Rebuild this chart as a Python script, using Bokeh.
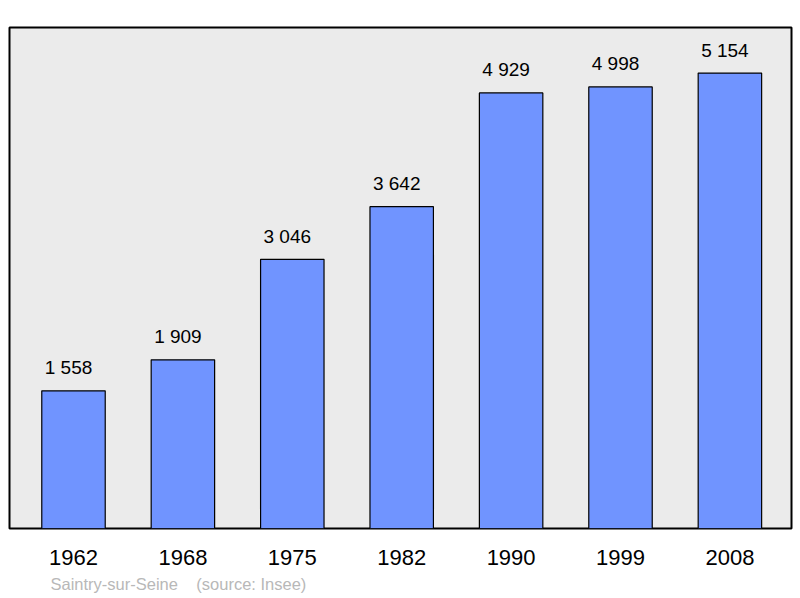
from bokeh.plotting import figure
from bokeh.models import ColumnDataSource, FixedTicker, Title, Range1d
from bokeh.core.properties import value
from bokeh.embed import file_html
from bokeh.resources import INLINE

years = ["1962", "1968", "1975", "1982", "1990", "1999", "2008"]
population = [1558, 1909, 3046, 3642, 4929, 4998, 5154]
value_labels = ["1 558", "1 909", "3 046", "3 642", "4 929", "4 998", "5 154"]
commune = "Saintry-sur-Seine"
source_note = "(source: Insee)"

FONT = "Liberation Sans"

xs = list(range(len(years)))
src = ColumnDataSource(dict(x=xs, top=population, label=value_labels))

p = figure(width=800, height=598, output_backend="svg", toolbar_location=None,
           x_range=Range1d(-0.585, 6.563), y_range=Range1d(0, 5670),
           y_axis_location=None, min_border_left=9, min_border_right=9,
           min_border_top=27, min_border_bottom=70)
p.background_fill_color = "#ebebeb"
p.border_fill_color = "white"
p.outline_line_color = "black"
p.outline_line_width = 2
p.xgrid.grid_line_color = None
p.ygrid.grid_line_color = None

p.vbar(x="x", top="top", bottom=0, width=0.58, source=src,
       fill_color="#7094ff", line_color="black", line_width=1.2)

p.text(x="x", y="top", text="label", source=src, x_offset=-5, y_offset=-23,
       text_align="center", text_baseline="alphabetic",
       text_font=value(FONT), text_font_size="19px", text_color="black")

ax = p.xaxis[0]
ax.ticker = FixedTicker(ticks=xs)
ax.major_label_overrides = {i: y for i, y in zip(xs, years)}
ax.axis_line_color = None
ax.major_tick_line_color = None
ax.minor_tick_line_color = None
ax.major_label_text_font = FONT
ax.major_label_text_font_size = "22px"
ax.major_label_text_color = "black"
ax.major_label_standoff = 15

note = Title(text=commune + "\u00a0\u00a0\u00a0\u00a0" + source_note,
             align="left", offset=41, standoff=0,
             padding=dict(left=0, right=0, top=5, bottom=0),
             text_font=FONT, text_font_size="16.5px", text_font_style="normal",
             text_color="#b8b8b8")
p.add_layout(note, "below")

open("out.html", "w").write(file_html(p, INLINE))
